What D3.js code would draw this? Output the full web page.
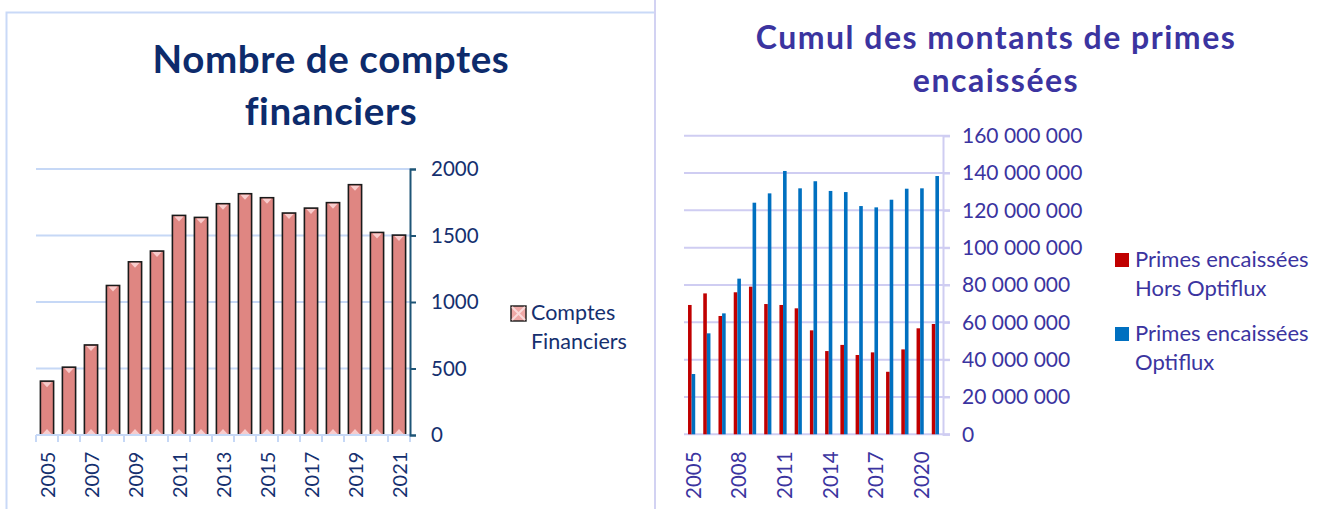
<!DOCTYPE html>
<html>
<head>
<meta charset="utf-8">
<title>Comptes financiers et primes encaissées</title>
<style>
body { margin: 0; background: #fff; }
svg { display: block; font-family: Lato, "Open Sans", sans-serif; }
</style>
</head>
<body>
<svg id="chart" width="1325" height="509"></svg>

<script src="https://d3js.org/d3.v7.min.js"></script>
<script>
// years shared by both charts
var years = d3.range(2005, 2022).map(String)

// left chart: nombre de comptes financiers
var comptes = [405, 510, 677, 1124, 1302, 1383, 1651, 1636, 1739, 1814, 1784, 1669, 1706, 1747, 1882, 1523, 1503]
var comptesTicks = [0, 500, 1000, 1500, 2000]

// right chart: primes encaissées (euros)
var horsOptiflux = [69300000, 75500000, 63400000, 76100000, 79100000, 69800000, 69300000, 67500000, 55700000,
  44600000, 47900000, 42500000, 43900000, 33500000, 45500000, 56800000, 59100000]
var optiflux = [32300000, 54100000, 64800000, 83400000, 124100000, 129100000, 141100000, 131800000, 135600000,
  130400000, 129800000, 122300000, 121600000, 125700000, 131600000, 131800000, 138400000]
var primesTicks = d3.range(0, 160000001, 20000000)

var svg = d3.select('#chart')

// frames
svg.append('path').attr('d', 'M6.5,509V12.5H654').attr('fill', 'none')
  .attr('stroke', '#c9d9f7').attr('stroke-width', 2)
svg.append('line').attr('x1', 655).attr('x2', 655).attr('y1', 0).attr('y2', 509)
  .attr('stroke', '#d2d2f2').attr('stroke-width', 2)

// ---------- left chart ----------
var navy = '#15306f'
var g1 = svg.append('g')

g1.append('text').attr('x', 331).attr('y', 73).attr('text-anchor', 'middle')
  .attr('font-size', 38.5).attr('letter-spacing', 0.6).attr('font-weight', 'bold').attr('fill', '#0d2b6c')
  .text('Nombre de comptes')
g1.append('text').attr('x', 331).attr('y', 125).attr('text-anchor', 'middle')
  .attr('font-size', 38.5).attr('letter-spacing', 0.6).attr('font-weight', 'bold').attr('fill', '#0d2b6c')
  .text('financiers')

var x1 = d3.scaleBand().domain(years).range([36, 410]).paddingInner(0.4).paddingOuter(0.2)
var y1 = d3.scaleLinear().domain([0, 2000]).range([435, 169])

// grid
g1.selectAll('.grid').data(comptesTicks.slice(1)).enter().append('line')
  .attr('x1', 36).attr('x2', 410)
  .attr('y1', function(d) { return y1(d) }).attr('y2', function(d) { return y1(d) })
  .attr('stroke', '#c6d8f6').attr('stroke-width', 2)

// bars
var bars1 = g1.selectAll('.bar').data(comptes).enter().append('g')
bars1.append('rect')
  .attr('x', function(d, i) { return x1(years[i]) })
  .attr('y', function(d) { return y1(d) })
  .attr('width', x1.bandwidth())
  .attr('height', function(d) { return y1(0) - y1(d) })
  .attr('fill', '#df8682').attr('stroke', '#1a1a1a').attr('stroke-width', 1.6)
// little bevel triangles top and bottom
bars1.append('path')
  .attr('d', function(d, i) {
    var x = x1(years[i]), w = x1.bandwidth(), t = y1(d) + 1
    return 'M' + (x + 2) + ',' + t + 'L' + (x + w - 2) + ',' + t + 'L' + (x + w / 2) + ',' + (t + 5) + 'Z'
  })
  .attr('fill', '#f8cccc')
bars1.append('path')
  .attr('d', function(d, i) {
    var x = x1(years[i]), w = x1.bandwidth(), b = y1(0) - 1
    return 'M' + (x + 2) + ',' + b + 'L' + (x + w - 2) + ',' + b + 'L' + (x + w / 2) + ',' + (b - 5) + 'Z'
  })
  .attr('fill', '#f8cccc')

// x axis
var xAxis1 = g1.append('g').attr('transform', 'translate(0,435)')
xAxis1.append('line').attr('x1', 36).attr('x2', 410).attr('stroke', '#c6d8f6').attr('stroke-width', 2)
xAxis1.selectAll('.tk').data(d3.range(years.length + 1)).enter().append('line')
  .attr('x1', function(i) { return 36 + i * x1.step() }).attr('x2', function(i) { return 36 + i * x1.step() })
  .attr('y1', 0).attr('y2', 7).attr('stroke', '#c6d8f6').attr('stroke-width', 2)
xAxis1.selectAll('.lab').data(years.filter(function(d, i) { return i % 2 === 0 })).enter().append('text')
  .attr('transform', function(d) { return 'translate(' + (x1(d) + x1.bandwidth() / 2 + 8) + ',' + 63 + ') rotate(-90)' })
  .attr('font-size', 20).attr('fill', navy).text(function(d) { return d })

// y axis on the right
var yAxis1 = g1.append('g').attr('transform', 'translate(410,0)')
  .call(d3.axisRight(y1).tickValues(comptesTicks).tickFormat(d3.format('d')).tickSize(6).tickPadding(15))
yAxis1.select('.domain').attr('stroke', '#1e5577').attr('stroke-width', 2)
yAxis1.selectAll('.tick line').attr('stroke', '#1e5577').attr('stroke-width', 2)
yAxis1.selectAll('.tick text').attr('font-size', 20.5).attr('fill', navy)
  .attr('font-family', 'Lato, sans-serif')

// legend
var leg1 = g1.append('g').attr('transform', 'translate(511,306)')
leg1.append('rect').attr('width', 15).attr('height', 15).attr('fill', '#f0a8a6')
  .attr('stroke', '#1a1a1a').attr('stroke-width', 1.4)
leg1.append('path').attr('d', 'M1,1L14,14M14,1L1,14').attr('stroke', '#fadada').attr('stroke-width', 2)
leg1.append('text').attr('x', 20).attr('y', 14).attr('font-size', 21.5).attr('fill', navy).text('Comptes')
leg1.append('text').attr('x', 20).attr('y', 43).attr('font-size', 21.5).attr('fill', navy).text('Financiers')

// ---------- right chart ----------
var indigo = '#3b34a0'
var g2 = svg.append('g')

g2.append('text').attr('x', 996).attr('y', 49).attr('text-anchor', 'middle')
  .attr('font-size', 32).attr('letter-spacing', 1.5).attr('font-weight', 'bold').attr('fill', indigo)
  .text('Cumul des montants de primes')
g2.append('text').attr('x', 996).attr('y', 92).attr('text-anchor', 'middle')
  .attr('font-size', 32).attr('letter-spacing', 1.5).attr('font-weight', 'bold').attr('fill', indigo)
  .text('encaissées')

var x2 = d3.scaleBand().domain(years).range([684, 943])
var y2 = d3.scaleLinear().domain([0, 160000000]).range([434.3, 135.7])
var bw = 3.6

g2.selectAll('.grid').data(primesTicks).enter().append('line')
  .attr('x1', 684).attr('x2', 950)
  .attr('y1', function(d) { return y2(d) }).attr('y2', function(d) { return y2(d) })
  .attr('stroke', '#cfcdf2').attr('stroke-width', 2)

g2.selectAll('.red').data(horsOptiflux).enter().append('rect')
  .attr('x', function(d, i) { return x2(years[i]) + x2.bandwidth() / 2 - bw })
  .attr('y', function(d) { return y2(d) })
  .attr('width', bw).attr('height', function(d) { return y2(0) - y2(d) })
  .attr('fill', '#c00000')
g2.selectAll('.blue').data(optiflux).enter().append('rect')
  .attr('x', function(d, i) { return x2(years[i]) + x2.bandwidth() / 2 })
  .attr('y', function(d) { return y2(d) })
  .attr('width', bw).attr('height', function(d) { return y2(0) - y2(d) })
  .attr('fill', '#0070c0')

// right axis
var fmt = function(d) { return d3.format(',')(d).replace(/,/g, ' ') }
var yAxis2 = g2.append('g').attr('transform', 'translate(943,0)')
  .call(d3.axisRight(y2).tickValues(primesTicks).tickFormat(fmt).tickSize(7).tickPadding(12))
yAxis2.select('.domain').attr('stroke', '#cfcdf2').attr('stroke-width', 2)
yAxis2.selectAll('.tick line').attr('stroke', '#cfcdf2').attr('stroke-width', 2)
yAxis2.selectAll('.tick text').attr('font-size', 21).attr('fill', indigo)
  .attr('font-family', 'Lato, sans-serif')

g2.selectAll('.lab').data(years.filter(function(d, i) { return i % 3 === 0 })).enter().append('text')
  .attr('transform', function(d) { return 'translate(' + (x2(d) + x2.bandwidth() / 2 + 9) + ',' + 499 + ') rotate(-90)' })
  .attr('font-size', 20.5).attr('fill', indigo).text(function(d) { return d })

// legend
var legItems = [
  {color: '#c00000', lines: ['Primes encaissées', 'Hors Optiflux'], y: 253},
  {color: '#0070c0', lines: ['Primes encaissées', 'Optiflux'], y: 327}
]
var leg2 = g2.selectAll('.leg').data(legItems).enter().append('g')
  .attr('transform', function(d) { return 'translate(1115,' + d.y + ')' })
leg2.append('rect').attr('width', 14).attr('height', 14).attr('fill', function(d) { return d.color })
leg2.append('text').attr('x', 20).attr('y', 14).attr('font-size', 22).attr('fill', indigo)
  .text(function(d) { return d.lines[0] })
leg2.append('text').attr('x', 20).attr('y', 43).attr('font-size', 22).attr('fill', indigo)
  .text(function(d) { return d.lines[1] })
</script>
</body>
</html>
